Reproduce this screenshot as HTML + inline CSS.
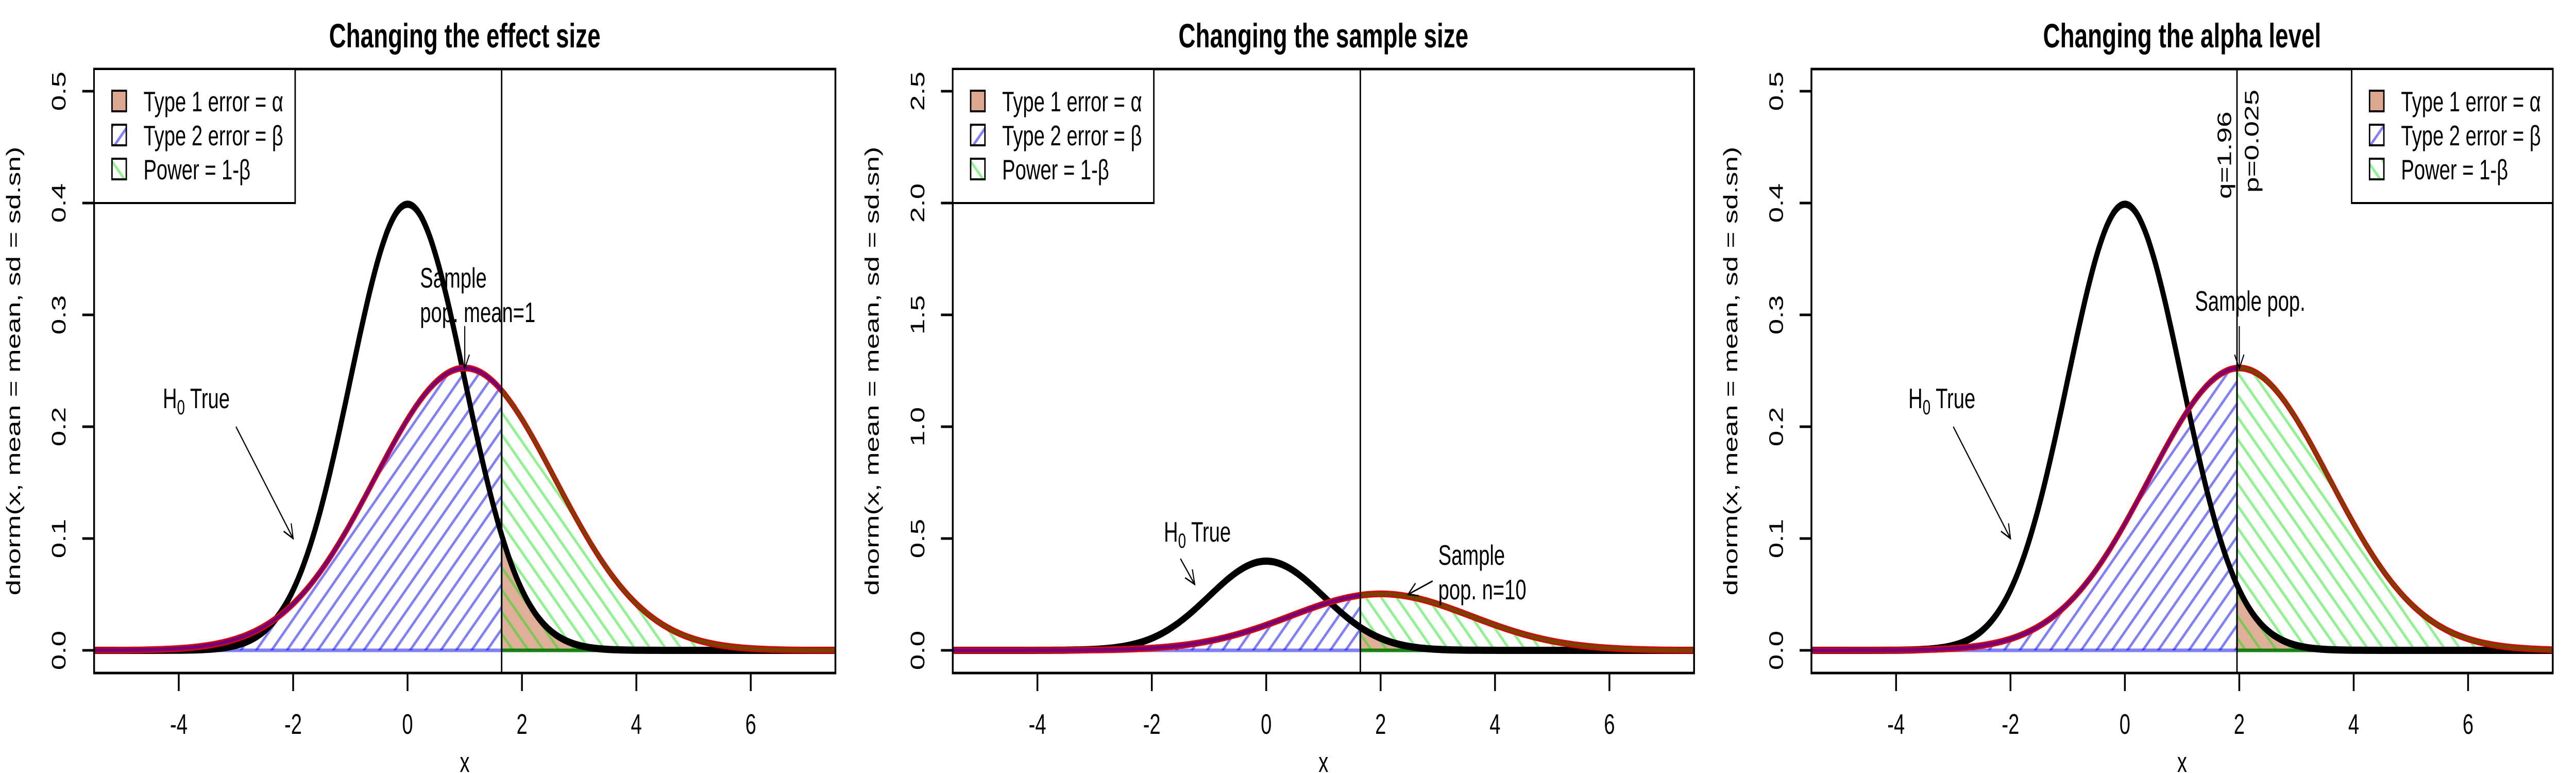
<!DOCTYPE html>
<html><head><meta charset="utf-8"><style>
html,body{margin:0;padding:0;background:#fff;width:100%;height:100%;overflow:hidden;}
svg{display:block;width:100vw;height:100vh;font-family:"Liberation Sans",Helvetica,Arial,sans-serif;}
</style></head><body>
<svg id="chart" viewBox="0 0 7200 1500" preserveAspectRatio="none" xmlns="http://www.w3.org/2000/svg">
<defs>
<pattern id="hatchBlue" patternUnits="userSpaceOnUse" width="43" height="43">
<line x1="-5" y1="48" x2="48" y2="-5" stroke="rgba(0,0,255,0.5)" stroke-width="6"/>
<line x1="-48" y1="48" x2="5" y2="-5" stroke="rgba(0,0,255,0.5)" stroke-width="6"/>
<line x1="38" y1="48" x2="91" y2="-5" stroke="rgba(0,0,255,0.5)" stroke-width="6"/>
</pattern>
<pattern id="hatchGreen" patternUnits="userSpaceOnUse" width="43" height="43">
<line x1="-5" y1="-5" x2="48" y2="48" stroke="rgba(0,230,0,0.45)" stroke-width="6"/>
<line x1="-48" y1="-5" x2="5" y2="48" stroke="rgba(0,230,0,0.45)" stroke-width="6"/>
<line x1="38" y1="-5" x2="91" y2="48" stroke="rgba(0,230,0,0.45)" stroke-width="6"/>
</pattern>
<clipPath id="boxClip"><rect x="263" y="134" width="2072" height="1172"/></clipPath>
</defs>
</svg>
<script>
const panelTitles = ["Changing the effect size", "Changing the sample size", "Changing the alpha level"];
const nullMeans = [0, 0, 0];
const nullSds = [1, 1, 1];
const altMeans = [1, 2, 2];
const altSds = [1.58, 1.58, 1.58];
const critValues = [1.645, 1.645, 1.96];
const yMaxes = [0.5, 2.5, 0.5];
const yTickLabels = [["0.0","0.1","0.2","0.3","0.4","0.5"],["0.0","0.5","1.0","1.5","2.0","2.5"],["0.0","0.1","0.2","0.3","0.4","0.5"]];
const xTickLabels = ["-4","-2","0","2","4","6"];
const legendLabels = ["Type 1 error = \u03B1", "Type 2 error = \u03B2", "Power = 1-\u03B2"];

const NS = "http://www.w3.org/2000/svg";
const svg = document.getElementById("chart");
const XMIN = -5.48, XMAX = 7.48, BL = 263, BR = 2335, BT = 134, BB = 1306, Y0 = 1262, YSPAN = 1085;
function sx(x){ return BL + (x - XMIN) / (XMAX - XMIN) * (BR - BL); }
function mk(tag, attrs, parent){ const e = document.createElementNS(NS, tag); for (const k in attrs) e.setAttribute(k, attrs[k]); parent.appendChild(e); return e; }
function dn(x, m, s){ return Math.exp(-0.5*((x-m)/s)**2) / (s*Math.sqrt(2*Math.PI)); }
function txt(parent, x, y, s, size, extra){ const t = mk("text", Object.assign({x:x, y:y, "font-size":size, fill:"#000"}, extra||{}), parent); t.textContent = s; return t; }

for (let p = 0; p < 3; p++) {
  const g = mk("g", {transform: "translate(" + (2400*p) + ",0)"}, svg);
  
  
  const ymax = yMaxes[p];
  const sy = y => Y0 - y / ymax * YSPAN;
  const crit = critValues[p];
  const N = 400;
  const pts = f => { const a=[]; for(let i=0;i<=N;i++){ const x = XMIN + (XMAX-XMIN)*i/N; a.push([x, f(x)]); } return a; };
  const nullF = x => dn(x, nullMeans[p], nullSds[p]);
  const altF = x => dn(x, altMeans[p], altSds[p]);
  const path = arr => arr.map((q,i)=>(i?"L":"M")+sx(q[0]).toFixed(1)+","+sy(q[1]).toFixed(1)).join("");
  const seg = (f, a, b) => { const arr=[]; const n=200; for(let i=0;i<=n;i++){ const x=a+(b-a)*i/n; arr.push([x,f(x)]); } return arr; };
  const area = (f, a, b) => { const arr = seg(f,a,b); return path(arr) + "L" + sx(b).toFixed(1) + "," + sy(0) + "L" + sx(a).toFixed(1) + "," + sy(0) + "Z"; };

  const plot = mk("g", {"clip-path":"url(#boxClip)"}, g);
  const t1 = mk("path", {d: area(nullF, crit, XMAX), fill:"rgba(200,110,70,0.55)", stroke:"none"}, plot);
  
  
  const t2 = mk("path", {d: area(altF, XMIN, crit), fill:"url(#hatchBlue)", stroke:"none"}, plot);
  
  
  const pw = mk("path", {d: area(altF, crit, XMAX), fill:"url(#hatchGreen)", stroke:"none"}, plot);
  
  
  mk("line", {x1:sx(XMIN), y1:sy(0), x2:sx(crit), y2:sy(0), stroke:"rgba(0,0,255,0.5)", "stroke-width":7}, plot);
  mk("line", {x1:sx(crit), y1:sy(0), x2:sx(XMAX), y2:sy(0), stroke:"rgba(0,120,0,0.9)", "stroke-width":7}, plot);
  mk("line", {x1:sx(crit), y1:sy(0), x2:sx(crit), y2:sy(altF(crit)), stroke:"rgba(0,120,0,0.8)", "stroke-width":5}, plot);
  const nc = mk("path", {d: path(pts(nullF)), fill:"none", stroke:"#000", "stroke-width":14, "stroke-linejoin":"round"}, plot);
  
  
  const ac = mk("path", {d: path(pts(altF)), fill:"none", stroke:"#e00000", "stroke-width":13, "stroke-linejoin":"round"}, plot);
  
  
  mk("path", {d: path(seg(altF, XMIN, crit)), fill:"none", stroke:"rgba(0,0,255,0.5)", "stroke-width":7}, plot);
  mk("path", {d: path(seg(altF, crit, XMAX)), fill:"none", stroke:"rgba(0,140,0,0.5)", "stroke-width":7}, plot);
  const cl = mk("line", {x1:sx(crit), y1:BT, x2:sx(crit), y2:BB, stroke:"#000", "stroke-width":4}, g);
  
  
  const box = mk("rect", {x:BL, y:BT, width:BR-BL, height:BB-BT, fill:"none", stroke:"#000", "stroke-width":5}, g);
  
  
  yTickLabels[p].forEach(lbl => {
    const v = parseFloat(lbl); const y = sy(v);
    mk("line", {x1:BL-33, y1:y, x2:BL, y2:y, stroke:"#000", "stroke-width":5}, g);
    const t = txt(g, 0, 0, lbl, 55, {"text-anchor":"middle", transform:"translate(183," + y + ") rotate(-90)"});
    
    
  });
  xTickLabels.forEach(lbl => {
    const v = parseFloat(lbl); const x = sx(v);
    mk("line", {x1:x, y1:BB, x2:x, y2:BB+35, stroke:"#000", "stroke-width":5}, g);
    const t = txt(g, x, 1424, lbl, 55, {"text-anchor":"middle"});
    
    
  });
  const xt = txt(g, 1299, 1498, "x", 55, {"text-anchor":"middle"});
  
  
  const yt = txt(g, 0, 0, "dnorm(x, mean = mean, sd = sd.sn)", 55, {"text-anchor":"middle", transform:"translate(56,720) rotate(-90)"});
  
  
  const tt = txt(g, 1299, 92, panelTitles[p], 66, {"text-anchor":"middle", "font-weight":"bold"});
  
  

  const lx = p === 2 ? 1773 : BL;
  const lg = mk("g", {}, g);
  
  
  mk("rect", {x:lx, y:BT, width:562, height:260, fill:"#fff", stroke:"#000", "stroke-width":4}, lg);
  const fills = ["rgba(200,110,70,0.6)", "url(#hatchBlue)", "url(#hatchGreen)"];
  [196, 262, 328].forEach((cy, i) => {
    const e = mk("g", {}, lg);
    
    
    mk("rect", {x:lx+50, y:cy-20, width:40, height:40, fill:"#fff", stroke:"none"}, e);
    mk("rect", {x:lx+50, y:cy-20, width:40, height:40, fill:fills[i], stroke:"#000", "stroke-width":4}, e);
    txt(e, lx+138, cy+20, legendLabels[i], 55);
  });

  const arrow = (x1,y1,x2,y2) => {
    const X1=sx(x1),Y1=sy(y1),X2=sx(x2),Y2=sy(y2);
    const a = Math.atan2(Y2-Y1, X2-X1), L=30, w=0.45;
    const ag = mk("g", {stroke:"#000", "stroke-width":3, fill:"none"}, g);
    
    
    mk("line", {x1:X1,y1:Y1,x2:X2,y2:Y2}, ag);
    mk("path", {d:"M"+(X2-L*Math.cos(a-w))+","+(Y2-L*Math.sin(a-w))+"L"+X2+","+Y2+"L"+(X2-L*Math.cos(a+w))+","+(Y2-L*Math.sin(a+w))}, ag);
  };
  const h0 = (x, y) => {
    const t = mk("text", {x:x, y:y, "font-size":55}, g);
    
    
    t.appendChild(document.createTextNode("H"));
    const s = mk("tspan", {"font-size":40, dy:12}, t); s.textContent = "0";
    const r = mk("tspan", {dy:-12}, t); r.textContent = " True";
  };
  if (p === 0) {
    h0(455, 792); arrow(-3, 0.2, -2, 0.1);
    const a = txt(g, 1174, 558, "Sample", 55);  
    const b = txt(g, 1174, 625, "pop. mean=1", 55);  
    arrow(1, 0.29, 1, 0.252);
  } else if (p === 1) {
    h0(853, 1051); arrow(-1.5, 0.41, -1.25, 0.295);
    const a = txt(g, 1620, 1096, "Sample", 55);  
    const b = txt(g, 1620, 1163, "pop. n=10", 55);  
    arrow(2.91, 0.31, 2.48, 0.25);
  } else {
    h0(534, 792); arrow(-3, 0.2, -2, 0.1);
    const a = txt(g, 1335, 603, "Sample pop.", 55);  
    arrow(2, 0.29, 2, 0.252);
    const q = txt(g, 0, 0, "q=1.96", 55, {transform:"translate(1436,386) rotate(-90)"});
     
    const pp = txt(g, 0, 0, "p=0.025", 55, {transform:"translate(1512,374) rotate(-90)"});
     
  }
}
</script>
</body></html>
